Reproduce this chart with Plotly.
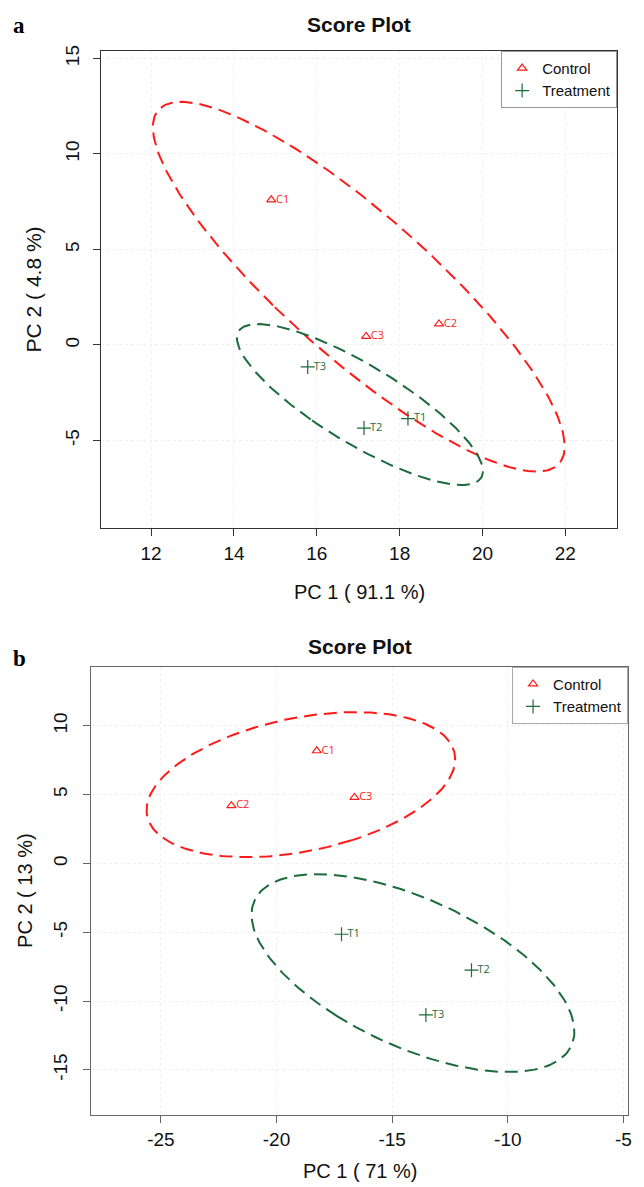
import numpy as np
import plotly.graph_objects as go

# ---------------- data ----------------
groups = ["Control", "Treatment"]

# panel a
a_ctrl_labels = ["C1", "C2", "C3"]
a_ctrl_x = [14.9, 18.95, 17.19]
a_ctrl_y = [7.6, 1.1, 0.45]
a_trt_labels = ["T1", "T2", "T3"]
a_trt_x = [18.2, 17.14, 15.78]
a_trt_y = [-3.85, -4.35, -1.15]
a_xlabel = "PC 1 ( 91.1 %)"
a_ylabel = "PC 2 ( 4.8 %)"
a_xticks = [12, 14, 16, 18, 20, 22]
a_xticktext = ["12", "14", "16", "18", "20", "22"]
a_yticks = [-5, 0, 5, 10, 15]
a_yticktext = ["-5", "0", "5", "10", "15"]

# panel b
b_ctrl_labels = ["C1", "C2", "C3"]
b_ctrl_x = [-18.26, -21.95, -16.63]
b_ctrl_y = [8.19, 4.2, 4.8]
b_trt_labels = ["T1", "T2", "T3"]
b_trt_x = [-17.19, -11.57, -13.54]
b_trt_y = [-5.14, -7.75, -11.0]
b_xlabel = "PC 1 ( 71 %)"
b_ylabel = "PC 2 ( 13 %)"
b_xticks = [-25, -20, -15, -10, -5]
b_xticktext = ["-25", "-20", "-15", "-10", "-5"]
b_yticks = [-15, -10, -5, 0, 5, 10]
b_yticktext = ["-15", "-10", "-5", "0", "5", "10"]

title_text = "Score Plot"
conf_level = 0.95

RED = "#FF1A1A"
GREEN = "#1B6B3C"
OFF = 8                      # page body margin
W, H = 644 - OFF, 1187 - OFF


def conf_ellipse(x, y, level=0.95, n=240):
    pts = np.column_stack([x, y])
    c = pts.mean(axis=0)
    cov = np.cov(pts, rowvar=False)
    t = np.sqrt(-2.0 * np.log(1.0 - level))  # chi-square quantile, 2 df
    vals, vecs = np.linalg.eigh(cov)
    th = np.linspace(0, 2 * np.pi, n)
    circ = np.vstack([np.cos(th), np.sin(th)])
    ell = c[:, None] + t * (vecs @ (np.sqrt(vals)[:, None] * circ))
    return ell[0], ell[1]


def px(v):
    return (v - OFF) / W


def py(v):
    return 1 - (v - OFF) / H


fig = go.Figure()

panels = [
    dict(xa="x", ya="y", legend="legend",
         ctrl=(a_ctrl_x, a_ctrl_y, a_ctrl_labels),
         trt=(a_trt_x, a_trt_y, a_trt_labels)),
    dict(xa="x2", ya="y2", legend="legend2",
         ctrl=(b_ctrl_x, b_ctrl_y, b_ctrl_labels),
         trt=(b_trt_x, b_trt_y, b_trt_labels)),
]

for p in panels:
    for key, name, col, sym, msize in [("ctrl", groups[0], RED, "triangle-up-open", 8),
                                       ("trt", groups[1], GREEN, "cross-thin-open", 10)]:
        xs, ys, labs = p[key]
        ex, ey = conf_ellipse(xs, ys, conf_level)
        fig.add_trace(go.Scatter(x=ex, y=ey, mode="lines", xaxis=p["xa"], yaxis=p["ya"],
                                 line=dict(color=col, width=2, dash="13px,7px"),
                                 showlegend=False, hoverinfo="skip"))
        fig.add_trace(go.Scatter(x=xs, y=ys, mode="markers", name=name,
                                 xaxis=p["xa"], yaxis=p["ya"], legend=p["legend"],
                                 marker=dict(symbol=sym, size=msize, color=col,
                                             line=dict(color=col, width=1.2))))
        fig.add_trace(go.Scatter(x=xs, y=ys, mode="markers+text", text=labs,
                                 textposition="middle right",
                                 textfont=dict(family="Open Sans", size=11, color=col),
                                 marker=dict(size=msize - 2, color="rgba(0,0,0,0)"),
                                 xaxis=p["xa"], yaxis=p["ya"], showlegend=False,
                                 hoverinfo="skip"))

axis_common = dict(showline=True, mirror=True, ticks="outside", ticklen=7, tickwidth=1,
                   showgrid=True, gridcolor="#efefef", griddash="dot", gridwidth=1,
                   zeroline=False)
tickfont = dict(family="Liberation Sans", size=19, color="#111")

# panel geometry (reference pixels)
a_l, a_r, a_t, a_b = 102, 621, 45, 525
b_l, b_r, b_t, b_b = 92, 632, 664, 1115

fig.update_layout(
    width=W, height=H, margin=dict(l=0, r=0, t=0, b=0),
    paper_bgcolor="white", plot_bgcolor="white",
    xaxis=dict(axis_common, domain=[px(a_l), px(a_r)], range=[10.8, 23.25],
               tickvals=a_xticks, ticktext=a_xticktext, linecolor="#333", tickcolor="#333",
               tickfont=tickfont, ticklabelstandoff=1, anchor="y"),
    yaxis=dict(axis_common, domain=[py(a_b), py(a_t)], range=[-9.6, 15.4],
               tickvals=a_yticks, ticktext=a_yticktext, linecolor="#333", tickcolor="#333",
               tickangle=-90, tickfont=tickfont, ticklabelstandoff=7, anchor="x"),
    xaxis2=dict(axis_common, domain=[px(b_l), px(b_r)], range=[-28.0, -4.8],
                tickvals=b_xticks, ticktext=b_xticktext, linecolor="#666", tickcolor="#666",
                tickfont=tickfont, ticklabelstandoff=0, anchor="y2"),
    yaxis2=dict(axis_common, domain=[py(b_b), py(b_t)], range=[-18.3, 14.3],
                tickvals=b_yticks, ticktext=b_yticktext, linecolor="#666", tickcolor="#666",
                tickangle=-90, tickfont=tickfont, ticklabelstandoff=9, anchor="x2"),
    legend=dict(x=px(a_r), xanchor="right", y=py(a_t), yanchor="top",
                bgcolor="white", bordercolor="#999", borderwidth=1,
                font=dict(family="Liberation Sans", size=15, color="#111"),
                itemwidth=30, tracegroupgap=0),
    legend2=dict(x=px(b_r), xanchor="right", y=py(b_t), yanchor="top",
                 bgcolor="white", bordercolor="#aaa", borderwidth=1,
                 font=dict(family="Liberation Sans", size=15, color="#111"),
                 itemwidth=30, tracegroupgap=0),
    showlegend=True,
)

ann = []
# main titles
ann.append(dict(text="<b>" + title_text + "</b>", x=px((a_l + a_r) / 2), y=py(19),
                font=dict(family="Liberation Sans", size=21, color="#111")))
ann.append(dict(text="<b>" + title_text + "</b>", x=px((b_l + b_r) / 2), y=py(644),
                font=dict(family="Liberation Sans", size=21, color="#111")))
# panel letters
ann.append(dict(text="<b>a</b>", x=px(19), y=py(20),
                font=dict(family="Liberation Serif", size=23, color="#000")))
ann.append(dict(text="<b>b</b>", x=px(20), y=py(656),
                font=dict(family="Liberation Serif", size=23, color="#000")))
# axis titles
ann.append(dict(text=a_xlabel, x=px((a_l + a_r) / 2), y=py(589),
                font=dict(family="Liberation Sans", size=20, color="#111")))
ann.append(dict(text=a_ylabel, x=px(34), y=py((a_t + a_b) / 2), textangle=-90,
                font=dict(family="Liberation Sans", size=21, color="#111")))
ann.append(dict(text=b_xlabel, x=px((b_l + b_r) / 2), y=py(1171),
                font=dict(family="Liberation Sans", size=20, color="#111")))
ann.append(dict(text=b_ylabel, x=px(25), y=py((b_t + b_b) / 2), textangle=-90,
                font=dict(family="Liberation Sans", size=20, color="#111")))

for a in ann:
    a.update(xref="paper", yref="paper", showarrow=False, xanchor="center", yanchor="middle")
fig.update_layout(annotations=ann)

fig.write_html("out.html")
